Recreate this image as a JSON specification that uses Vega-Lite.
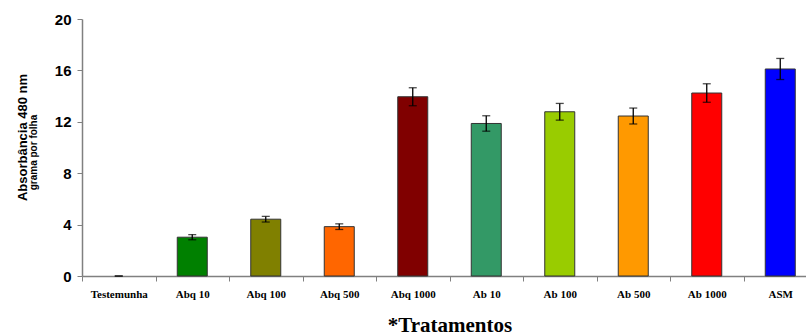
{
  "$schema": "https://vega.github.io/schema/vega-lite/v6.json",
  "autosize": "none",
  "padding": {"left": 82, "top": 19, "right": 0, "bottom": 59},
  "width": 735,
  "height": 257,
  "background": "white",
  "config": {"view": {"stroke": null}},
  "data": {
    "values": [
      {"trat": "Testemunha", "valor": 0.0, "erro": 0.0},
      {"trat": "Abq 10", "valor": 3.02, "erro": 0.2},
      {"trat": "Abq 100", "valor": 4.42, "erro": 0.22},
      {"trat": "Abq 500", "valor": 3.84, "erro": 0.22},
      {"trat": "Abq 1000", "valor": 13.95, "erro": 0.7},
      {"trat": "Ab 10", "valor": 11.87, "erro": 0.6},
      {"trat": "Ab 100", "valor": 12.78, "erro": 0.65},
      {"trat": "Ab 500", "valor": 12.45, "erro": 0.62},
      {"trat": "Ab 1000", "valor": 14.24, "erro": 0.72},
      {"trat": "ASM", "valor": 16.11, "erro": 0.82}
    ]
  },
  "transform": [
    {"calculate": "datum.valor - datum.erro", "as": "lo"},
    {"calculate": "datum.valor + datum.erro", "as": "hi"}
  ],
  "encoding": {
    "x": {
      "field": "trat",
      "type": "nominal",
      "sort": ["Testemunha", "Abq 10", "Abq 100", "Abq 500", "Abq 1000", "Ab 10", "Ab 100", "Ab 500", "Ab 1000", "ASM"],
      "scale": {"paddingInner": 0, "paddingOuter": 0},
      "axis": {
        "title": "*Tratamentos",
        "titleFont": "Liberation Serif",
        "titleFontSize": 21,
        "titleFontWeight": "bold",
        "titleColor": "black",
        "titlePadding": 15,
        "labelAngle": 0,
        "labelFont": "Liberation Serif",
        "labelFontSize": 11,
        "labelFontWeight": "bold",
        "labelColor": "black",
        "labelPadding": 7,
        "tickBand": "extent",
        "tickSize": 5,
        "tickColor": "#808080",
        "domainColor": "#808080",
        "domainWidth": 1.5
      }
    }
  },
  "layer": [
    {
      "transform": [{"filter": "datum.valor > 0"}],
      "mark": {"type": "bar", "size": 30, "stroke": "#333333", "strokeWidth": 1},
      "encoding": {
        "y": {
          "field": "valor",
          "type": "quantitative",
          "scale": {"domain": [0, 20], "nice": false},
          "axis": {
            "values": [0, 4, 8, 12, 16, 20],
            "grid": false,
            "title": "Absorbância 480 nm",
            "titleFont": "Liberation Sans",
            "titleFontSize": 13,
            "titleFontWeight": "bold",
            "titleColor": "black",
            "titleX": -60,
            "titleY": 118,
            "titleBaseline": "middle",
            "labelFont": "Liberation Sans",
            "labelFontSize": 15,
            "labelFontWeight": "bold",
            "labelColor": "black",
            "labelPadding": 6,
            "tickSize": 5,
            "tickColor": "#808080",
            "domainColor": "#808080",
            "domainWidth": 1.5
          }
        },
        "color": {
          "field": "trat",
          "type": "nominal",
          "legend": null,
          "scale": {
            "domain": ["Testemunha", "Abq 10", "Abq 100", "Abq 500", "Abq 1000", "Ab 10", "Ab 100", "Ab 500", "Ab 1000", "ASM"],
            "range": ["#ffffff", "#008000", "#808000", "#FF6600", "#800000", "#339966", "#99CC00", "#FF9900", "#FF0000", "#0000FF"]
          }
        }
      }
    },
    {
      "mark": {"type": "rule", "color": "black", "strokeWidth": 1.3},
      "encoding": {
        "y": {
          "field": "lo",
          "type": "quantitative",
          "scale": {"domain": [0, 20], "nice": false},
          "axis": {
            "orient": "left",
            "title": "grama por folha",
            "titleFont": "Liberation Sans",
            "titleFontSize": 10,
            "titleFontWeight": "bold",
            "titleColor": "black",
            "titleX": -49,
            "titleY": 133,
            "titleBaseline": "middle",
            "labels": false,
            "ticks": false,
            "domain": false,
            "grid": false
          }
        },
        "y2": {"field": "hi"}
      }
    },
    {
      "mark": {"type": "tick", "color": "black", "size": 8, "thickness": 1.3},
      "encoding": {"y": {"field": "lo", "type": "quantitative", "scale": {"domain": [0, 20], "nice": false}, "axis": null}}
    },
    {
      "mark": {"type": "tick", "color": "black", "size": 8, "thickness": 1.3},
      "encoding": {"y": {"field": "hi", "type": "quantitative", "scale": {"domain": [0, 20], "nice": false}, "axis": null}}
    }
  ],
  "resolve": {"axis": {"y": "independent"}}
}
